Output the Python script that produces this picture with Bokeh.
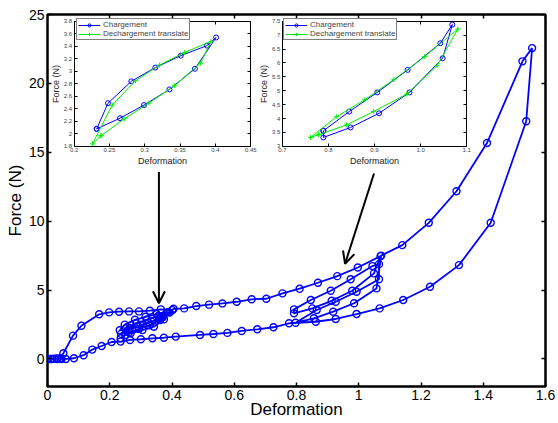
from bokeh.plotting import figure
from bokeh.models import (Range1d, LinearAxis, FixedTicker, Arrow, OpenHead,
                          Legend, LegendItem, ColumnDataSource)
from bokeh.embed import file_html
from bokeh.resources import INLINE

# ---------------- data ----------------
# main curve (Deformation, Force (N)), in drawing order
deformation = [0.000, 0.010, 0.021, 0.032, 0.042, 0.051,
               0.082, 0.109, 0.166, 0.198, 0.230, 0.262, 0.294, 0.329, 0.364, 0.401,
               0.371, 0.335, 0.299, 0.265, 0.232,
               0.248, 0.281, 0.315, 0.351, 0.388,
               0.360, 0.326, 0.292, 0.260, 0.236,
               0.252, 0.286, 0.320, 0.356, 0.392,
               0.362, 0.328, 0.294, 0.262, 0.235,
               0.251, 0.267, 0.305, 0.342, 0.374, 0.405,
               0.439, 0.478, 0.519, 0.562, 0.608, 0.656, 0.703, 0.755, 0.810, 0.869, 0.931, 0.997, 1.070,
               1.049, 0.979, 0.913, 0.851, 0.792,
               0.792, 0.846, 0.910, 0.974, 1.044, 1.065,
               1.065, 0.993, 0.926, 0.865, 0.797,
               0.856, 0.918, 0.985, 1.057, 1.072,
               1.140, 1.225, 1.314, 1.412, 1.526, 1.557,
               1.538, 1.424, 1.322, 1.229, 1.143, 1.067, 0.993, 0.926, 0.862, 0.776, 0.726,
               0.674, 0.624, 0.578, 0.533, 0.490, 0.412, 0.374, 0.337, 0.300, 0.265, 0.235,
               0.206, 0.174, 0.144, 0.116, 0.085, 0.059, 0.045, 0.030, 0.015, 0.003]
force = [0.00, 0.00, 0.02, 0.00, 0.05, 0.41,
         1.69, 2.41, 3.24, 3.38, 3.43, 3.45, 3.45, 3.50, 3.60, 3.54,
         3.04, 2.71, 2.46, 2.25, 2.08,
         2.49, 2.84, 3.06, 3.25, 3.41,
         2.95, 2.62, 2.36, 2.12, 1.82,
         2.22, 2.58, 2.86, 3.12, 3.36,
         2.82, 2.45, 2.18, 1.92, 1.50,
         1.74, 1.86, 2.10, 2.34, 2.88, 3.64,
         3.67, 3.84, 3.94, 4.03, 4.15, 4.33, 4.37, 4.76, 5.10, 5.53, 6.01, 6.64, 7.46,
         6.21, 4.95, 4.22, 3.67, 3.31,
         3.60, 4.28, 4.95, 5.78, 6.74, 6.88,
         5.78, 4.88, 4.15, 3.55, 2.63,
         2.95, 3.43, 4.04, 5.12, 7.50,
         8.26, 9.88, 12.17, 15.67, 21.60, 22.56,
         17.25, 9.88, 6.81, 5.24, 4.28, 3.67, 3.26, 2.90, 2.70, 2.59, 2.30,
         2.15, 2.03, 1.89, 1.81, 1.74, 1.62, 1.54, 1.50, 1.43, 1.38, 1.26,
         1.23, 0.94, 0.68, 0.27, 0.05, 0.00, 0.00, 0.03, 0.00, 0.00]

x_ticks = [0, 0.2, 0.4, 0.6, 0.8, 1.0, 1.2, 1.4, 1.6]
x_tick_labels = ["0", "0.2", "0.4", "0.6", "0.8", "1", "1.2", "1.4", "1.6"]
y_ticks = [0, 5, 10, 15, 20, 25]
y_tick_labels = ["0", "5", "10", "15", "20", "25"]

# arrows (start -> end, data coordinates)
arrow_x_start = [0.358, 1.049]
arrow_y_start = [13.57, 13.46]
arrow_x_end = [0.358, 0.956]
arrow_y_end = [4.04, 6.91]

# inset 1
in1_charge_x = [0.232, 0.248, 0.281, 0.315, 0.351, 0.388, 0.401, 0.371, 0.335, 0.299, 0.265, 0.232]
in1_charge_y = [2.08, 2.49, 2.84, 3.06, 3.25, 3.41, 3.54, 3.04, 2.71, 2.46, 2.25, 2.08]
in1_dech_x = [0.238, 0.226, 0.254, 0.287, 0.321, 0.356, 0.394, 0.379, 0.342, 0.306, 0.271, 0.238]
in1_dech_y = [1.97, 1.84, 2.46, 2.85, 3.10, 3.30, 3.48, 3.13, 2.77, 2.49, 2.24, 1.97]
in1_x_ticks = [0.2, 0.25, 0.3, 0.35, 0.4, 0.45]
in1_x_labels = ["0.2", "0.25", "0.3", "0.35", "0.4", "0.45"]
in1_y_ticks = [1.8, 2.0, 2.2, 2.4, 2.6, 2.8, 3.0, 3.2, 3.4, 3.6, 3.8]
in1_y_labels = ["1.8", "2", "2.2", "2.4", "2.6", "2.8", "3", "3.2", "3.4", "3.6", "3.8"]

# inset 2
in2_charge_x = [0.789, 0.845, 0.906, 0.972, 1.043, 1.069, 1.048, 0.976, 0.910, 0.848, 0.789, 0.789]
in2_charge_y = [3.56, 4.25, 4.94, 5.75, 6.71, 7.38, 6.17, 4.94, 4.19, 3.68, 3.32, 3.56]
in2_dech_x = [0.779, 0.761, 0.818, 0.879, 0.942, 1.009, 1.081, 1.036, 0.970, 0.898, 0.839, 0.779]
in2_dech_y = [3.42, 3.32, 4.07, 4.68, 5.40, 6.23, 7.22, 5.90, 4.88, 4.25, 3.77, 3.42]
in2_x_ticks = [0.7, 0.8, 0.9, 1.0, 1.1]
in2_x_labels = ["0.7", "0.8", "0.9", "1.0", "1.1"]
in2_y_ticks = [3.0, 3.5, 4.0, 4.5, 5.0, 5.5, 6.0, 6.5, 7.0, 7.5]
in2_y_labels = ["3", "3.5", "4", "4.5", "5", "5.5", "6", "6.5", "7", "7.5"]

# ---------------- layout constants ----------------
X0, X1 = 0.0, 1.6
Y0, Y1 = -2.0, 25.0
BLUE = "#0000ff"
GREEN = "#00ee00"
FONT = "Liberation Sans"

p = figure(width=558, height=423, x_range=Range1d(X0, X1), y_range=Range1d(Y0, Y1),
           output_backend="svg", toolbar_location=None,
           x_axis_location=None, y_axis_location=None,
           min_border_left=47, min_border_right=13, min_border_top=14, min_border_bottom=37)
p.xgrid.grid_line_color = None
p.ygrid.grid_line_color = None
p.outline_line_color = "black"
p.outline_line_width = 2.5
p.background_fill_color = "white"
p.border_fill_color = "white"


def style_axis(ax, tick_in, tick_w, lab_size, lab_color, show_labels=True):
    ax.major_tick_in = tick_in
    ax.major_tick_out = 0
    ax.minor_tick_in = 0
    ax.minor_tick_out = 0
    ax.major_tick_line_width = tick_w
    ax.major_tick_line_color = "black"
    ax.major_label_text_font = FONT
    ax.major_label_text_font_size = lab_size
    ax.major_label_text_color = lab_color
    ax.axis_label_text_font = FONT
    ax.axis_label_text_font_style = "normal"
    ax.axis_label_text_color = "black"
    if not show_labels:
        ax.major_label_text_alpha = 0


# main axes
ax_b = LinearAxis(ticker=FixedTicker(ticks=x_ticks),
                  major_label_overrides=dict(zip(x_ticks, x_tick_labels)),
                  axis_label="Deformation")
style_axis(ax_b, 4, 1.5, "14px", "black")
ax_b.axis_line_color = None
ax_b.major_label_standoff = 3
ax_b.axis_label_standoff = -3
ax_b.axis_label_text_font_size = "17px"
p.add_layout(ax_b, "below")

ax_l = LinearAxis(ticker=FixedTicker(ticks=y_ticks),
                  major_label_overrides=dict(zip(y_ticks, y_tick_labels)),
                  axis_label="Force (N)")
style_axis(ax_l, 4, 1.5, "14px", "black")
ax_l.axis_line_color = None
ax_l.major_label_standoff = 3
ax_l.axis_label_standoff = 1
ax_l.axis_label_text_font_size = "17px"
p.add_layout(ax_l, "left")

ax_t = LinearAxis(fixed_location=Y1, ticker=FixedTicker(ticks=x_ticks))
style_axis(ax_t, 4, 1.5, "1px", "black", show_labels=False)
ax_t.axis_line_color = None
p.add_layout(ax_t, "above")

ax_r = LinearAxis(fixed_location=X1, ticker=FixedTicker(ticks=y_ticks))
style_axis(ax_r, 4, 1.5, "1px", "black", show_labels=False)
ax_r.axis_line_color = None
p.add_layout(ax_r, "right")

# main curve
p.line(deformation, force, line_color=BLUE, line_width=1.8)
p.scatter(deformation, force, marker="circle", size=7, fill_color=None,
          line_color=BLUE, line_width=1.4)

# arrows
arrow_src = ColumnDataSource(dict(xs=arrow_x_start, ys=arrow_y_start,
                                  xe=arrow_x_end, ye=arrow_y_end))
p.add_layout(Arrow(source=arrow_src, x_start="xs", y_start="ys", x_end="xe", y_end="ye",
                   line_width=2, line_color="black",
                   end=OpenHead(size=12, line_width=2, line_color="black")))


def sub_range(d, m, M):
    s = (d[1] - d[0]) / (m[1] - m[0])
    return Range1d(d[0] - (m[0] - M[0]) * s, d[1] + (M[1] - m[1]) * s)


extra_x = {}
extra_y = {}


def add_inset(name, xr, yr, place_x, place_y, xt, xl, yt, yl,
              cx, cy, dx, dy, legend_loc):
    xn, yn = name + "x", name + "y"
    extra_x[xn] = sub_range(xr, place_x, (X0, X1))
    extra_y[yn] = sub_range(yr, place_y, (Y0, Y1))
    kw = dict(x_range_name=xn, y_range_name=yn)

    specs = [("below", yr[0], xr, xt, xl, True, "Deformation"),
             ("left", xr[0], yr, yt, yl, True, "Force (N)"),
             ("above", yr[1], xr, xt, xl, False, None),
             ("right", xr[1], yr, yt, yl, False, None)]
    for side, loc, bnd, tk, tl, show, lab in specs:
        ax = LinearAxis(fixed_location=loc, bounds=bnd, ticker=FixedTicker(ticks=tk),
                        major_label_overrides=dict(zip(tk, tl)), **kw)
        style_axis(ax, 3, 1, "6px", "#444444", show_labels=show)
        ax.axis_line_color = "black"
        ax.axis_line_width = 1
        ax.major_label_standoff = 2
        if lab:
            ax.axis_label = lab
            ax.axis_label_text_font_size = "9px"
            ax.axis_label_text_color = "#222222"
            ax.axis_label_standoff = 0
        p.add_layout(ax, side)

    lc = p.line(cx, cy, line_color=BLUE, line_width=1, **kw)
    sc = p.scatter(cx, cy, marker="circle", size=5, fill_color=None,
                   line_color=BLUE, line_width=1, **kw)
    ld = p.line(dx, dy, line_color=GREEN, line_width=1, **kw)
    sd = p.scatter(dx, dy, marker="cross", size=5, line_color=GREEN, line_width=1, **kw)
    leg = Legend(items=[LegendItem(label="Chargement", renderers=[lc, sc]),
                        LegendItem(label="Dechargement translate", renderers=[ld, sd])],
                 location=legend_loc, orientation="vertical",
                 label_text_font=FONT, label_text_font_size="8px",
                 glyph_height=8, glyph_width=22, label_height=8, label_standoff=3,
                 spacing=0, padding=1, margin=0,
                 border_line_color="black", border_line_width=1.5,
                 background_fill_color="white", background_fill_alpha=1)
    p.add_layout(leg)


add_inset("i1", (0.2, 0.45), (1.8, 3.8), (0.0854, 0.6529), (15.43, 24.51),
          in1_x_ticks, in1_x_labels, in1_y_ticks, in1_y_labels,
          in1_charge_x, in1_charge_y, in1_dech_x, in1_dech_y, (29, 346))
add_inset("i2", (0.7, 1.1), (3.0, 7.5), (0.7547, 1.3465), (15.43, 24.51),
          in2_x_ticks, in2_x_labels, in2_y_ticks, in2_y_labels,
          in2_charge_x, in2_charge_y, in2_dech_x, in2_dech_y, (236, 346))

p.extra_x_ranges = extra_x
p.extra_y_ranges = extra_y

open("out.html", "w").write(file_html(p, INLINE))
